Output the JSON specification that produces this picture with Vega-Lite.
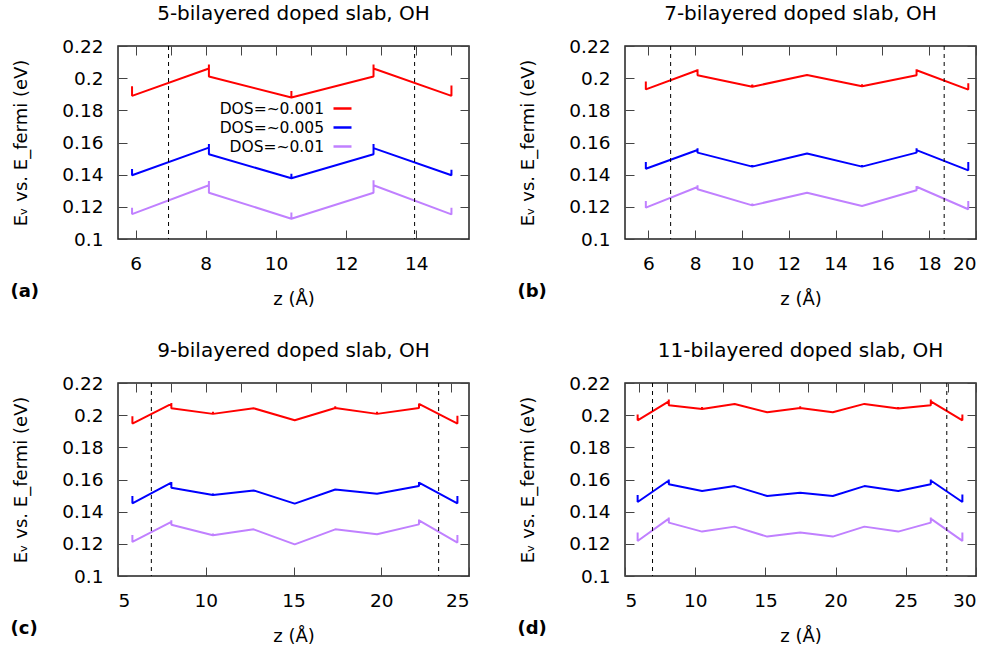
{
"$schema": "https://vega.github.io/schema/vega-lite/v6.json",
"padding": {"left": 9, "top": 3, "right": 5, "bottom": 5},
"config": {
  "font": "DejaVu Sans",
  "view": {"stroke": "#222", "strokeWidth": 1.5},
  "axis": {"domain": false, "grid": false, "tickSize": -9, "tickColor": "#444", "tickWidth": 1, "labelFont": "DejaVu Sans", "labelFontSize": 18.5, "labelColor": "#000", "labelPadding": 24, "titleFont": "DejaVu Sans", "titleFontSize": 18, "titleFontWeight": "normal", "titleColor": "#000"},
  "title": {"font": "DejaVu Sans", "fontSize": 20, "fontWeight": "normal", "color": "#000", "offset": 13},
  "legend": {"labelFont": "DejaVu Sans"}
},
"datasets": {
  "lines": [
    {"p":"a","s":"DOS=~0.001","i":0,"z":5.9,"E":0.195},{"p":"a","s":"DOS=~0.001","i":1,"z":5.9,"E":0.189},{"p":"a","s":"DOS=~0.001","i":2,"z":8.09,"E":0.206},{"p":"a","s":"DOS=~0.001","i":3,"z":8.09,"E":0.2085},{"p":"a","s":"DOS=~0.001","i":4,"z":8.09,"E":0.201},{"p":"a","s":"DOS=~0.001","i":5,"z":10.44,"E":0.188},{"p":"a","s":"DOS=~0.001","i":6,"z":10.44,"E":0.192},{"p":"a","s":"DOS=~0.001","i":7,"z":10.44,"E":0.188},{"p":"a","s":"DOS=~0.001","i":8,"z":12.78,"E":0.201},{"p":"a","s":"DOS=~0.001","i":9,"z":12.78,"E":0.2085},{"p":"a","s":"DOS=~0.001","i":10,"z":12.78,"E":0.206},{"p":"a","s":"DOS=~0.001","i":11,"z":15.0,"E":0.189},{"p":"a","s":"DOS=~0.001","i":12,"z":15.0,"E":0.1955},
    {"p":"a","s":"DOS=~0.005","i":0,"z":5.9,"E":0.1435},{"p":"a","s":"DOS=~0.005","i":1,"z":5.9,"E":0.1396},{"p":"a","s":"DOS=~0.005","i":2,"z":8.09,"E":0.1568},{"p":"a","s":"DOS=~0.005","i":3,"z":8.09,"E":0.159},{"p":"a","s":"DOS=~0.005","i":4,"z":8.09,"E":0.1527},{"p":"a","s":"DOS=~0.005","i":5,"z":10.44,"E":0.1378},{"p":"a","s":"DOS=~0.005","i":6,"z":10.44,"E":0.1405},{"p":"a","s":"DOS=~0.005","i":7,"z":10.44,"E":0.1378},{"p":"a","s":"DOS=~0.005","i":8,"z":12.78,"E":0.1527},{"p":"a","s":"DOS=~0.005","i":9,"z":12.78,"E":0.159},{"p":"a","s":"DOS=~0.005","i":10,"z":12.78,"E":0.1565},{"p":"a","s":"DOS=~0.005","i":11,"z":15.0,"E":0.1396},{"p":"a","s":"DOS=~0.005","i":12,"z":15.0,"E":0.143},
    {"p":"a","s":"DOS=~0.01","i":0,"z":5.9,"E":0.1195},{"p":"a","s":"DOS=~0.01","i":1,"z":5.9,"E":0.1155},{"p":"a","s":"DOS=~0.01","i":2,"z":8.09,"E":0.1334},{"p":"a","s":"DOS=~0.01","i":3,"z":8.09,"E":0.136},{"p":"a","s":"DOS=~0.01","i":4,"z":8.09,"E":0.1288},{"p":"a","s":"DOS=~0.01","i":5,"z":10.44,"E":0.1126},{"p":"a","s":"DOS=~0.01","i":6,"z":10.44,"E":0.1164},{"p":"a","s":"DOS=~0.01","i":7,"z":10.44,"E":0.1126},{"p":"a","s":"DOS=~0.01","i":8,"z":12.78,"E":0.1288},{"p":"a","s":"DOS=~0.01","i":9,"z":12.78,"E":0.1365},{"p":"a","s":"DOS=~0.01","i":10,"z":12.78,"E":0.1334},{"p":"a","s":"DOS=~0.01","i":11,"z":15.0,"E":0.1153},{"p":"a","s":"DOS=~0.01","i":12,"z":15.0,"E":0.1195},

    {"p":"b","s":"DOS=~0.001","i":0,"z":5.89,"E":0.198},{"p":"b","s":"DOS=~0.001","i":1,"z":5.89,"E":0.193},{"p":"b","s":"DOS=~0.001","i":2,"z":8.1,"E":0.2049},{"p":"b","s":"DOS=~0.001","i":3,"z":8.1,"E":0.2056},{"p":"b","s":"DOS=~0.001","i":4,"z":8.1,"E":0.2018},{"p":"b","s":"DOS=~0.001","i":5,"z":10.44,"E":0.1947},{"p":"b","s":"DOS=~0.001","i":6,"z":10.44,"E":0.196},{"p":"b","s":"DOS=~0.001","i":7,"z":10.44,"E":0.1947},{"p":"b","s":"DOS=~0.001","i":8,"z":12.78,"E":0.202},{"p":"b","s":"DOS=~0.001","i":9,"z":15.13,"E":0.195},{"p":"b","s":"DOS=~0.001","i":10,"z":15.13,"E":0.1962},{"p":"b","s":"DOS=~0.001","i":11,"z":15.13,"E":0.195},{"p":"b","s":"DOS=~0.001","i":12,"z":17.46,"E":0.2018},{"p":"b","s":"DOS=~0.001","i":13,"z":17.46,"E":0.2055},{"p":"b","s":"DOS=~0.001","i":14,"z":17.46,"E":0.2049},{"p":"b","s":"DOS=~0.001","i":15,"z":19.67,"E":0.1929},{"p":"b","s":"DOS=~0.001","i":16,"z":19.67,"E":0.1968},
    {"p":"b","s":"DOS=~0.005","i":0,"z":5.89,"E":0.1479},{"p":"b","s":"DOS=~0.005","i":1,"z":5.89,"E":0.1437},{"p":"b","s":"DOS=~0.005","i":2,"z":8.1,"E":0.1553},{"p":"b","s":"DOS=~0.005","i":3,"z":8.1,"E":0.1564},{"p":"b","s":"DOS=~0.005","i":4,"z":8.1,"E":0.1537},{"p":"b","s":"DOS=~0.005","i":5,"z":10.44,"E":0.145},{"p":"b","s":"DOS=~0.005","i":6,"z":10.44,"E":0.146},{"p":"b","s":"DOS=~0.005","i":7,"z":10.44,"E":0.145},{"p":"b","s":"DOS=~0.005","i":8,"z":12.78,"E":0.1531},{"p":"b","s":"DOS=~0.005","i":9,"z":15.13,"E":0.145},{"p":"b","s":"DOS=~0.005","i":10,"z":15.13,"E":0.146},{"p":"b","s":"DOS=~0.005","i":11,"z":15.13,"E":0.145},{"p":"b","s":"DOS=~0.005","i":12,"z":17.46,"E":0.1537},{"p":"b","s":"DOS=~0.005","i":13,"z":17.46,"E":0.1564},{"p":"b","s":"DOS=~0.005","i":14,"z":17.46,"E":0.1553},{"p":"b","s":"DOS=~0.005","i":15,"z":19.67,"E":0.1427},{"p":"b","s":"DOS=~0.005","i":16,"z":19.67,"E":0.1479},
    {"p":"b","s":"DOS=~0.01","i":0,"z":5.89,"E":0.1236},{"p":"b","s":"DOS=~0.01","i":1,"z":5.89,"E":0.1195},{"p":"b","s":"DOS=~0.01","i":2,"z":8.1,"E":0.1323},{"p":"b","s":"DOS=~0.01","i":3,"z":8.1,"E":0.1334},{"p":"b","s":"DOS=~0.01","i":4,"z":8.1,"E":0.1309},{"p":"b","s":"DOS=~0.01","i":5,"z":10.44,"E":0.1209},{"p":"b","s":"DOS=~0.01","i":6,"z":10.44,"E":0.1221},{"p":"b","s":"DOS=~0.01","i":7,"z":10.44,"E":0.1209},{"p":"b","s":"DOS=~0.01","i":8,"z":12.78,"E":0.1288},{"p":"b","s":"DOS=~0.01","i":9,"z":15.13,"E":0.1205},{"p":"b","s":"DOS=~0.01","i":10,"z":17.46,"E":0.1303},{"p":"b","s":"DOS=~0.01","i":11,"z":17.46,"E":0.133},{"p":"b","s":"DOS=~0.01","i":12,"z":17.46,"E":0.1325},{"p":"b","s":"DOS=~0.01","i":13,"z":19.67,"E":0.1185},{"p":"b","s":"DOS=~0.01","i":14,"z":19.67,"E":0.1236},

    {"p":"c","s":"DOS=~0.001","i":0,"z":5.82,"E":0.1993},{"p":"c","s":"DOS=~0.001","i":1,"z":5.82,"E":0.1948},{"p":"c","s":"DOS=~0.001","i":2,"z":8.04,"E":0.207},{"p":"c","s":"DOS=~0.001","i":3,"z":8.04,"E":0.2075},{"p":"c","s":"DOS=~0.001","i":4,"z":8.04,"E":0.2043},{"p":"c","s":"DOS=~0.001","i":5,"z":10.41,"E":0.2008},{"p":"c","s":"DOS=~0.001","i":6,"z":10.41,"E":0.2022},{"p":"c","s":"DOS=~0.001","i":7,"z":10.41,"E":0.2008},{"p":"c","s":"DOS=~0.001","i":8,"z":12.73,"E":0.2043},{"p":"c","s":"DOS=~0.001","i":9,"z":15.07,"E":0.1968},{"p":"c","s":"DOS=~0.001","i":10,"z":17.38,"E":0.2045},{"p":"c","s":"DOS=~0.001","i":11,"z":17.38,"E":0.2055},{"p":"c","s":"DOS=~0.001","i":12,"z":17.38,"E":0.2045},{"p":"c","s":"DOS=~0.001","i":13,"z":19.76,"E":0.2008},{"p":"c","s":"DOS=~0.001","i":14,"z":19.76,"E":0.2022},{"p":"c","s":"DOS=~0.001","i":15,"z":19.76,"E":0.2008},{"p":"c","s":"DOS=~0.001","i":16,"z":22.15,"E":0.2045},{"p":"c","s":"DOS=~0.001","i":17,"z":22.15,"E":0.2072},{"p":"c","s":"DOS=~0.001","i":18,"z":22.15,"E":0.207},{"p":"c","s":"DOS=~0.001","i":19,"z":24.34,"E":0.1948},{"p":"c","s":"DOS=~0.001","i":20,"z":24.34,"E":0.1997},
    {"p":"c","s":"DOS=~0.005","i":0,"z":5.82,"E":0.1497},{"p":"c","s":"DOS=~0.005","i":1,"z":5.82,"E":0.1452},{"p":"c","s":"DOS=~0.005","i":2,"z":8.04,"E":0.158},{"p":"c","s":"DOS=~0.005","i":3,"z":8.04,"E":0.1585},{"p":"c","s":"DOS=~0.005","i":4,"z":8.04,"E":0.1549},{"p":"c","s":"DOS=~0.005","i":5,"z":10.41,"E":0.1503},{"p":"c","s":"DOS=~0.005","i":6,"z":10.41,"E":0.1513},{"p":"c","s":"DOS=~0.005","i":7,"z":10.41,"E":0.1503},{"p":"c","s":"DOS=~0.005","i":8,"z":12.73,"E":0.1532},{"p":"c","s":"DOS=~0.005","i":9,"z":15.07,"E":0.145},{"p":"c","s":"DOS=~0.005","i":10,"z":17.38,"E":0.1538},{"p":"c","s":"DOS=~0.005","i":11,"z":19.76,"E":0.1512},{"p":"c","s":"DOS=~0.005","i":12,"z":22.15,"E":0.1559},{"p":"c","s":"DOS=~0.005","i":13,"z":22.15,"E":0.1584},{"p":"c","s":"DOS=~0.005","i":14,"z":22.15,"E":0.158},{"p":"c","s":"DOS=~0.005","i":15,"z":24.34,"E":0.1452},{"p":"c","s":"DOS=~0.005","i":16,"z":24.34,"E":0.1497},
    {"p":"c","s":"DOS=~0.01","i":0,"z":5.82,"E":0.1255},{"p":"c","s":"DOS=~0.01","i":1,"z":5.82,"E":0.1212},{"p":"c","s":"DOS=~0.01","i":2,"z":8.04,"E":0.1336},{"p":"c","s":"DOS=~0.01","i":3,"z":8.04,"E":0.1346},{"p":"c","s":"DOS=~0.01","i":4,"z":8.04,"E":0.1319},{"p":"c","s":"DOS=~0.01","i":5,"z":10.41,"E":0.1253},{"p":"c","s":"DOS=~0.01","i":6,"z":10.41,"E":0.1265},{"p":"c","s":"DOS=~0.01","i":7,"z":10.41,"E":0.1253},{"p":"c","s":"DOS=~0.01","i":8,"z":12.73,"E":0.129},{"p":"c","s":"DOS=~0.01","i":9,"z":15.07,"E":0.1197},{"p":"c","s":"DOS=~0.01","i":10,"z":17.38,"E":0.129},{"p":"c","s":"DOS=~0.01","i":11,"z":19.76,"E":0.1259},{"p":"c","s":"DOS=~0.01","i":12,"z":22.15,"E":0.1321},{"p":"c","s":"DOS=~0.01","i":13,"z":22.15,"E":0.1352},{"p":"c","s":"DOS=~0.01","i":14,"z":22.15,"E":0.1346},{"p":"c","s":"DOS=~0.01","i":15,"z":24.34,"E":0.1208},{"p":"c","s":"DOS=~0.01","i":16,"z":24.34,"E":0.1255},

    {"p":"d","s":"DOS=~0.001","i":0,"z":5.9,"E":0.2004},{"p":"d","s":"DOS=~0.001","i":1,"z":5.9,"E":0.1968},{"p":"d","s":"DOS=~0.001","i":2,"z":8.12,"E":0.2086},{"p":"d","s":"DOS=~0.001","i":3,"z":8.12,"E":0.2097},{"p":"d","s":"DOS=~0.001","i":4,"z":8.12,"E":0.2061},{"p":"d","s":"DOS=~0.001","i":5,"z":10.49,"E":0.2039},{"p":"d","s":"DOS=~0.001","i":6,"z":10.49,"E":0.2051},{"p":"d","s":"DOS=~0.001","i":7,"z":10.49,"E":0.2039},{"p":"d","s":"DOS=~0.001","i":8,"z":12.81,"E":0.207},{"p":"d","s":"DOS=~0.001","i":9,"z":15.13,"E":0.2018},{"p":"d","s":"DOS=~0.001","i":10,"z":17.48,"E":0.2045},{"p":"d","s":"DOS=~0.001","i":11,"z":17.48,"E":0.2055},{"p":"d","s":"DOS=~0.001","i":12,"z":17.48,"E":0.2045},{"p":"d","s":"DOS=~0.001","i":13,"z":19.8,"E":0.2018},{"p":"d","s":"DOS=~0.001","i":14,"z":22.05,"E":0.207},{"p":"d","s":"DOS=~0.001","i":15,"z":24.46,"E":0.2041},{"p":"d","s":"DOS=~0.001","i":16,"z":24.46,"E":0.2051},{"p":"d","s":"DOS=~0.001","i":17,"z":24.46,"E":0.2041},{"p":"d","s":"DOS=~0.001","i":18,"z":26.78,"E":0.2061},{"p":"d","s":"DOS=~0.001","i":19,"z":26.78,"E":0.2097},{"p":"d","s":"DOS=~0.001","i":20,"z":26.78,"E":0.2086},{"p":"d","s":"DOS=~0.001","i":21,"z":29.03,"E":0.1968},{"p":"d","s":"DOS=~0.001","i":22,"z":29.03,"E":0.2004},
    {"p":"d","s":"DOS=~0.005","i":0,"z":5.9,"E":0.1503},{"p":"d","s":"DOS=~0.005","i":1,"z":5.9,"E":0.146},{"p":"d","s":"DOS=~0.005","i":2,"z":8.12,"E":0.1594},{"p":"d","s":"DOS=~0.005","i":3,"z":8.12,"E":0.16},{"p":"d","s":"DOS=~0.005","i":4,"z":8.12,"E":0.157},{"p":"d","s":"DOS=~0.005","i":5,"z":10.49,"E":0.1528},{"p":"d","s":"DOS=~0.005","i":6,"z":12.81,"E":0.1559},{"p":"d","s":"DOS=~0.005","i":7,"z":15.13,"E":0.1497},{"p":"d","s":"DOS=~0.005","i":8,"z":17.48,"E":0.1518},{"p":"d","s":"DOS=~0.005","i":9,"z":19.8,"E":0.1497},{"p":"d","s":"DOS=~0.005","i":10,"z":22.05,"E":0.1559},{"p":"d","s":"DOS=~0.005","i":11,"z":24.46,"E":0.1528},{"p":"d","s":"DOS=~0.005","i":12,"z":26.78,"E":0.157},{"p":"d","s":"DOS=~0.005","i":13,"z":26.78,"E":0.16},{"p":"d","s":"DOS=~0.005","i":14,"z":26.78,"E":0.1594},{"p":"d","s":"DOS=~0.005","i":15,"z":29.03,"E":0.146},{"p":"d","s":"DOS=~0.005","i":16,"z":29.03,"E":0.1507},
    {"p":"d","s":"DOS=~0.01","i":0,"z":5.9,"E":0.127},{"p":"d","s":"DOS=~0.01","i":1,"z":5.9,"E":0.1218},{"p":"d","s":"DOS=~0.01","i":2,"z":8.12,"E":0.1357},{"p":"d","s":"DOS=~0.01","i":3,"z":8.12,"E":0.1364},{"p":"d","s":"DOS=~0.01","i":4,"z":8.12,"E":0.1332},{"p":"d","s":"DOS=~0.01","i":5,"z":10.49,"E":0.1276},{"p":"d","s":"DOS=~0.01","i":6,"z":12.81,"E":0.1307},{"p":"d","s":"DOS=~0.01","i":7,"z":15.13,"E":0.1245},{"p":"d","s":"DOS=~0.01","i":8,"z":17.48,"E":0.127},{"p":"d","s":"DOS=~0.01","i":9,"z":19.8,"E":0.1245},{"p":"d","s":"DOS=~0.01","i":10,"z":22.05,"E":0.1307},{"p":"d","s":"DOS=~0.01","i":11,"z":24.46,"E":0.1276},{"p":"d","s":"DOS=~0.01","i":12,"z":26.78,"E":0.1332},{"p":"d","s":"DOS=~0.01","i":13,"z":26.78,"E":0.1364},{"p":"d","s":"DOS=~0.01","i":14,"z":26.78,"E":0.1357},{"p":"d","s":"DOS=~0.01","i":15,"z":29.03,"E":0.1218},{"p":"d","s":"DOS=~0.01","i":16,"z":29.03,"E":0.127}
  ],
  "dashes": [
    {"p":"a","z":6.94},{"p":"a","z":13.95},
    {"p":"b","z":6.95},{"p":"b","z":18.64},
    {"p":"c","z":6.9},{"p":"c","z":23.27},
    {"p":"d","z":6.96},{"p":"d","z":27.92}
  ]
},
"columns": 2,
"spacing": {"row": 144, "column": 156},
"bounds": "flush",
"resolve": {"scale": {"color": "independent"}, "legend": {"color": "independent"}},
"concat": [
  {
    "width": 351, "height": 193,
    "title": "5-bilayered doped slab, OH",
    "resolve": {"axis": {"x": "independent", "y": "independent"}},
    "layer": [
      {"data": {"name": "lines"}, "transform": [{"filter": "datum.p === 'a'"}],
       "mark": {"type": "line", "strokeWidth": 2, "strokeJoin": "bevel"},
       "encoding": {
         "x": {"field": "z", "type": "quantitative", "scale": {"domain": [5.5, 15.5], "nice": false, "zero": false}, "axis": {"values": [6, 8, 10, 12, 14], "title": "z (Å)", "titleY": 60, "titleBaseline": "middle"}},
         "y": {"field": "E", "type": "quantitative", "scale": {"domain": [0.1, 0.22], "nice": false, "zero": false}, "axis": {"values": [0.1, 0.12, 0.14, 0.16, 0.18, 0.2, 0.22], "format": ".2~f", "title": "Eᵥ vs. E_fermi (eV)", "titleX": -97, "titleBaseline": "middle"}},
         "color": {"field": "s", "type": "nominal", "scale": {"domain": ["DOS=~0.001", "DOS=~0.005", "DOS=~0.01"], "range": ["#ff0000", "#0000ff", "#c080ff"]},
           "legend": {"orient": "none", "legendX": 214, "legendY": 52, "title": null, "symbolType": "stroke", "symbolSize": 324, "symbolStrokeWidth": 2.5, "labelAlign": "right", "labelOffset": -29, "labelFontSize": 15.5, "labelColor": "#000", "rowPadding": 0}},
         "order": {"field": "i", "type": "quantitative"}
       }},
      {"data": {"name": "dashes"}, "transform": [{"filter": "datum.p === 'a'"}],
       "mark": {"type": "rule", "strokeDash": [4, 4], "color": "#000", "strokeWidth": 1},
       "encoding": {"x": {"field": "z", "type": "quantitative", "axis": {"orient": "top", "labels": false, "title": "(a)", "titleX": -108, "titleY": 245, "titleAlign": "left", "titleBaseline": "middle", "titleAngle": 0, "titleFontWeight": "bold", "titleFontSize": 18}}}},
      {"data": {"name": "lines"}, "transform": [{"filter": "datum.p === 'a'"}],
       "mark": {"type": "point", "opacity": 0},
       "encoding": {"x": {"field": "z", "type": "quantitative", "axis": null}, "y": {"field": "E", "type": "quantitative", "axis": {"orient": "right", "labels": false, "title": null}}}}
    ]
  },
  {
    "width": 351, "height": 193,
    "title": "7-bilayered doped slab, OH",
    "resolve": {"axis": {"x": "independent", "y": "independent"}},
    "layer": [
      {"data": {"name": "lines"}, "transform": [{"filter": "datum.p === 'b'"}],
       "mark": {"type": "line", "strokeWidth": 2, "strokeJoin": "bevel"},
       "encoding": {
         "x": {"field": "z", "type": "quantitative", "scale": {"domain": [5, 20], "nice": false, "zero": false}, "axis": {"values": [6, 8, 10, 12, 14, 16, 18, 20], "title": "z (Å)", "titleY": 60, "titleBaseline": "middle"}},
         "y": {"field": "E", "type": "quantitative", "scale": {"domain": [0.1, 0.22], "nice": false, "zero": false}, "axis": {"values": [0.1, 0.12, 0.14, 0.16, 0.18, 0.2, 0.22], "format": ".2~f", "title": "Eᵥ vs. E_fermi (eV)", "titleX": -97, "titleBaseline": "middle"}},
         "color": {"field": "s", "type": "nominal", "scale": {"domain": ["DOS=~0.001", "DOS=~0.005", "DOS=~0.01"], "range": ["#ff0000", "#0000ff", "#c080ff"]}, "legend": null},
         "order": {"field": "i", "type": "quantitative"}
       }},
      {"data": {"name": "dashes"}, "transform": [{"filter": "datum.p === 'b'"}],
       "mark": {"type": "rule", "strokeDash": [4, 4], "color": "#000", "strokeWidth": 1},
       "encoding": {"x": {"field": "z", "type": "quantitative", "axis": {"orient": "top", "labels": false, "title": "(b)", "titleX": -108, "titleY": 245, "titleAlign": "left", "titleBaseline": "middle", "titleAngle": 0, "titleFontWeight": "bold", "titleFontSize": 18}}}},
      {"data": {"name": "lines"}, "transform": [{"filter": "datum.p === 'b'"}],
       "mark": {"type": "point", "opacity": 0},
       "encoding": {"x": {"field": "z", "type": "quantitative", "axis": null}, "y": {"field": "E", "type": "quantitative", "axis": {"orient": "right", "labels": false, "title": null}}}}
    ]
  },
  {
    "width": 351, "height": 193,
    "title": "9-bilayered doped slab, OH",
    "resolve": {"axis": {"x": "independent", "y": "independent"}},
    "layer": [
      {"data": {"name": "lines"}, "transform": [{"filter": "datum.p === 'c'"}],
       "mark": {"type": "line", "strokeWidth": 2, "strokeJoin": "bevel"},
       "encoding": {
         "x": {"field": "z", "type": "quantitative", "scale": {"domain": [5, 25], "nice": false, "zero": false}, "axis": {"values": [5, 10, 15, 20, 25], "title": "z (Å)", "titleY": 60, "titleBaseline": "middle"}},
         "y": {"field": "E", "type": "quantitative", "scale": {"domain": [0.1, 0.22], "nice": false, "zero": false}, "axis": {"values": [0.1, 0.12, 0.14, 0.16, 0.18, 0.2, 0.22], "format": ".2~f", "title": "Eᵥ vs. E_fermi (eV)", "titleX": -97, "titleBaseline": "middle"}},
         "color": {"field": "s", "type": "nominal", "scale": {"domain": ["DOS=~0.001", "DOS=~0.005", "DOS=~0.01"], "range": ["#ff0000", "#0000ff", "#c080ff"]}, "legend": null},
         "order": {"field": "i", "type": "quantitative"}
       }},
      {"data": {"name": "dashes"}, "transform": [{"filter": "datum.p === 'c'"}],
       "mark": {"type": "rule", "strokeDash": [4, 4], "color": "#000", "strokeWidth": 1},
       "encoding": {"x": {"field": "z", "type": "quantitative", "axis": {"orient": "top", "labels": false, "title": "(c)", "titleX": -108, "titleY": 245, "titleAlign": "left", "titleBaseline": "middle", "titleAngle": 0, "titleFontWeight": "bold", "titleFontSize": 18}}}},
      {"data": {"name": "lines"}, "transform": [{"filter": "datum.p === 'c'"}],
       "mark": {"type": "point", "opacity": 0},
       "encoding": {"x": {"field": "z", "type": "quantitative", "axis": null}, "y": {"field": "E", "type": "quantitative", "axis": {"orient": "right", "labels": false, "title": null}}}}
    ]
  },
  {
    "width": 351, "height": 193,
    "title": "11-bilayered doped slab, OH",
    "resolve": {"axis": {"x": "independent", "y": "independent"}},
    "layer": [
      {"data": {"name": "lines"}, "transform": [{"filter": "datum.p === 'd'"}],
       "mark": {"type": "line", "strokeWidth": 2, "strokeJoin": "bevel"},
       "encoding": {
         "x": {"field": "z", "type": "quantitative", "scale": {"domain": [5, 30], "nice": false, "zero": false}, "axis": {"values": [5, 10, 15, 20, 25, 30], "title": "z (Å)", "titleY": 60, "titleBaseline": "middle"}},
         "y": {"field": "E", "type": "quantitative", "scale": {"domain": [0.1, 0.22], "nice": false, "zero": false}, "axis": {"values": [0.1, 0.12, 0.14, 0.16, 0.18, 0.2, 0.22], "format": ".2~f", "title": "Eᵥ vs. E_fermi (eV)", "titleX": -97, "titleBaseline": "middle"}},
         "color": {"field": "s", "type": "nominal", "scale": {"domain": ["DOS=~0.001", "DOS=~0.005", "DOS=~0.01"], "range": ["#ff0000", "#0000ff", "#c080ff"]}, "legend": null},
         "order": {"field": "i", "type": "quantitative"}
       }},
      {"data": {"name": "dashes"}, "transform": [{"filter": "datum.p === 'd'"}],
       "mark": {"type": "rule", "strokeDash": [4, 4], "color": "#000", "strokeWidth": 1},
       "encoding": {"x": {"field": "z", "type": "quantitative", "axis": {"orient": "top", "labels": false, "title": "(d)", "titleX": -108, "titleY": 245, "titleAlign": "left", "titleBaseline": "middle", "titleAngle": 0, "titleFontWeight": "bold", "titleFontSize": 18}}}},
      {"data": {"name": "lines"}, "transform": [{"filter": "datum.p === 'd'"}],
       "mark": {"type": "point", "opacity": 0},
       "encoding": {"x": {"field": "z", "type": "quantitative", "axis": null}, "y": {"field": "E", "type": "quantitative", "axis": {"orient": "right", "labels": false, "title": null}}}}
    ]
  }
]
}
